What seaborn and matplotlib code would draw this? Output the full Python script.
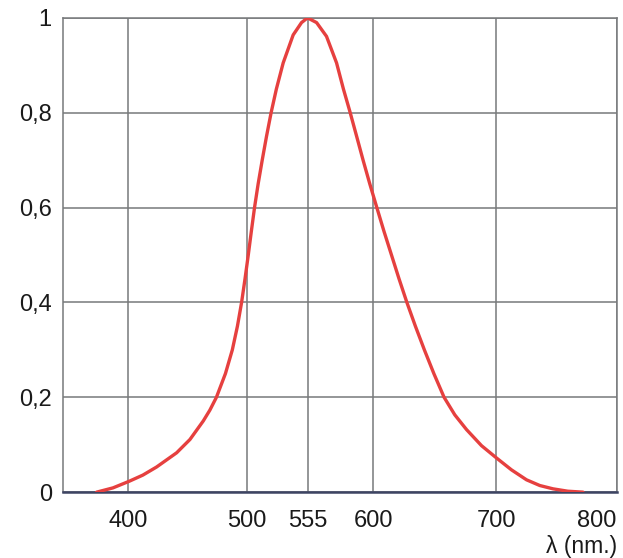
import matplotlib
matplotlib.use("Agg")
import matplotlib.pyplot as plt
import numpy as np
import pandas as pd
import seaborn as sns

# wavelength (nm) and relative luminous efficiency
wavelength = [375.7, 388.2, 400.7, 412.2, 423.7, 440.6, 451.8, 463.0, 468.6,
              474.1, 481.7, 487.5, 491.8, 495.3, 498.2, 501.0, 503.8, 506.7,
              510.0, 513.7, 517.6, 521.8, 526.6, 532.8, 541.9, 549.5, 555.0,
              561.2, 568.0, 574.9, 579.6, 584.0, 588.7, 593.1, 597.7, 603.0,
              608.8, 614.9, 621.0, 627.4, 634.3, 641.6, 649.3, 657.6, 666.3,
              675.8, 688.0, 700.2, 712.6, 725.1, 736.1, 747.1, 759.3, 772.0]
efficiency = [0.0, 0.009, 0.023, 0.036, 0.053, 0.083, 0.111, 0.150, 0.173,
              0.20, 0.25, 0.30, 0.35, 0.40, 0.45, 0.50, 0.55, 0.60,
              0.65, 0.70, 0.75, 0.80, 0.85, 0.905, 0.964, 0.990, 1.0,
              0.990, 0.961, 0.905, 0.85, 0.803, 0.75, 0.70, 0.65, 0.60,
              0.55, 0.50, 0.45, 0.40, 0.35, 0.30, 0.25, 0.20, 0.163,
              0.132, 0.098, 0.072, 0.047, 0.026, 0.014, 0.007, 0.002, 0.0]

x_ticks = [400, 500, 555, 600, 700, 800]
y_ticks = [0, 0.2, 0.4, 0.6, 0.8, 1.0]
y_labels = ["0", "0,2", "0,4", "0,6", "0,8", "1"]

# the printed axis is not evenly spaced: breakpoints of the drawn scale
scale_nm = [350, 400, 500, 555, 600, 700, 800]
scale_pos = [63, 128.5, 247.3, 307.7, 373.3, 496.5, 617]


def fwd(x):
    return np.interp(x, scale_nm, scale_pos)


def inv(p):
    return np.interp(p, scale_pos, scale_nm)


df = pd.DataFrame({"wavelength": wavelength, "efficiency": efficiency})

sns.set_theme(style="white")
plt.rcParams["font.family"] = ["Liberation Sans", "DejaVu Sans"]

fig = plt.figure(figsize=(6.23, 5.58), dpi=100)
ax = fig.add_axes([0.101, 0.118, 0.889, 0.850])

sns.lineplot(data=df, x="wavelength", y="efficiency", ax=ax,
             color="#e6403f", linewidth=2.4, sort=False, zorder=3)
ax.lines[0].set_solid_joinstyle("round")
ax.lines[0].set_solid_capstyle("round")

ax.set_xscale("function", functions=(fwd, inv))
ax.set_xlim(350, 800)
ax.set_ylim(0, 1)
ax.set_xticks(x_ticks)
ax.set_xticklabels([str(t) for t in x_ticks])
ax.set_yticks(y_ticks)
ax.set_yticklabels(y_labels)
ax.tick_params(axis="both", length=0, labelsize=17, colors="#1a1a1a")
ax.tick_params(axis="x", pad=13)
ax.tick_params(axis="y", pad=8)
ax.get_xticklabels()[-1].set_ha("right")
ax.set_xlabel("")
ax.set_ylabel("")

ax.grid(True, color="#77797b", linewidth=1.1)
for side in ["left", "right", "top"]:
    ax.spines[side].set_color("#77797b")
    ax.spines[side].set_linewidth(1.1)
ax.spines["bottom"].set_color("#3d4463")
ax.spines["bottom"].set_linewidth(1.8)

fig.text(0.99, 1 - 546 / 558, "λ (nm.)", ha="right", va="center",
         fontsize=16.5, color="#1a1a1a")

fig.savefig("out.png", dpi=100, facecolor="white")
